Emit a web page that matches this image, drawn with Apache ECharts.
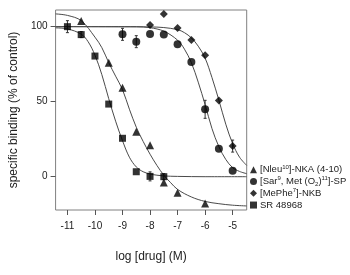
<!DOCTYPE html>
<html><head><meta charset="utf-8">
<script src="https://cdn.jsdelivr.net/npm/echarts@6/dist/echarts.min.js"></script>
<style>html,body{margin:0;padding:0;background:#fff}#c{width:350px;height:275px}</style>
</head><body><div id="c"></div>
<script>
// ---- data ----
const seriesNames = ['[Nleu10]-NKA (4-10)', '[Sar9, Met (O2)11]-SP', '[MePhe7]-NKB', 'SR 48968'];
// same labels with superscript / subscript markup for display
const legendRich = [
  '{t|[Nleu}{sup|10}{t|]-NKA (4-10)}',
  '{t|[Sar}{sup|9}{t|, Met (O}{sub|2}{t|)}{sup|11}{t|]-SP}',
  '{t|[MePhe}{sup|7}{t|]-NKB}',
  '{t|SR 48968}'
];

const triX = [-10.5, -9.5, -9, -8.5, -8, -7.5, -7, -6];
const triY = [103.8, 76, 59.3, 30, 20.9, -3.8, -10.7, -17.8];

const cirX = [-9, -8.5, -8, -7.5, -7, -6.5, -6, -5.5, -5];
const cirY = [94.9, 90, 95.1, 94.7, 88.2, 76.4, 44.9, 18.7, 4];
const cirErr = [4, 4, 0, 0, 0, 0, 6, 0, 0];

const diaX = [-8, -7.5, -7, -6.5, -6, -5.5, -5];
const diaY = [101.1, 108.4, 99.1, 91.1, 80.9, 50.7, 20.4];
const diaErr = [0, 0, 0, 0, 0, 0, 4];

const sqX = [-11, -10.5, -10, -9.5, -9, -8.5, -8, -7.5];
const sqY = [100, 94.7, 80.4, 48.4, 25.6, 3.3, 0.2, 0];
const sqErr = [4, 2, 0, 0, 0, 0, 3, 2];

// fitted curves
const triCurveX = [-11.43, -11, -10.5, -10, -9.75, -9.5, -9.25, -9, -8.75, -8.5, -8.25, -8, -7.75, -7.5, -7.25, -7, -6.5, -6, -5.5, -5, -4.49];
const triCurveY = [108.5, 107.5, 104, 93, 86, 76, 67, 58, 45, 33, 23.5, 15, 7.5, 1, -4, -8.5, -13.5, -16.5, -18, -19, -19.5];

const cirCurveX = [-11.43, -8.5, -8, -7.5, -7, -6.75, -6.5, -6.25, -6, -5.75, -5.5, -5.25, -5, -4.75, -4.49];
const cirCurveY = [100, 100, 99.3, 97, 91, 85, 76, 63, 48, 32, 20, 11.5, 6, 3.5, 2];

const diaCurveX = [-11.43, -8, -7.5, -7, -6.75, -6.5, -6.25, -6, -5.75, -5.5, -5.25, -5, -4.75, -4.49];
const diaCurveY = [100, 99.8, 99.4, 98, 96, 92.5, 87, 79, 66, 51, 35, 22, 13, 7.5];

const sqCurveX = [-11.43, -11, -10.5, -10.25, -10, -9.75, -9.5, -9.25, -9, -8.75, -8.5, -8.25, -8, -7.75, -7.5, -7, -6, -4.49];
const sqCurveY = [99.2, 98.5, 95, 90, 81, 68, 52, 37, 24, 13, 6.5, 3.3, 1.8, 1, 0.5, 0.2, 0, 0];

const xTicks = [-11, -10, -9, -8, -7, -6, -5];
const yTicks = [0, 50, 100];

// ---- build ----
const zip = (xs, ys) => xs.map((x, i) => [x, ys[i]]);
const zip3 = (xs, ys, es) => xs.map((x, i) => [x, ys[i], es[i]]).filter(d => d[2] > 0);

const FONT = 'Liberation Sans, Arial, sans-serif';
const chart = echarts.init(document.getElementById('c'), null, {renderer: 'canvas'});

function curve(xs, ys) {
  return {type: 'line', data: zip(xs, ys), smooth: 0.35, showSymbol: false, symbol: 'none',
    lineStyle: {color: '#4a4a4a', width: 1}, silent: true, z: 1, legendHoverLink: false};
}
function errBars(data) {
  return {type: 'custom', data: data, z: 2, silent: true,
    renderItem: function (params, api) {
      const x = api.value(0), y = api.value(1), e = api.value(2);
      const p1 = api.coord([x, y - e]), p2 = api.coord([x, y + e]);
      const w = 1.5;
      const st = {stroke: '#333', lineWidth: 1};
      return {type: 'group', children: [
        {type: 'line', shape: {x1: p1[0], y1: p1[1], x2: p2[0], y2: p2[1]}, style: st},
        {type: 'line', shape: {x1: p1[0] - w, y1: p1[1], x2: p1[0] + w, y2: p1[1]}, style: st},
        {type: 'line', shape: {x1: p2[0] - w, y1: p2[1], x2: p2[0] + w, y2: p2[1]}, style: st}
      ]};
    }};
}
function pts(name, xs, ys, symbol, size) {
  return {type: 'scatter', name: name, data: zip(xs, ys), symbol: symbol, symbolSize: size,
    itemStyle: {color: '#000'}, z: 3};
}

chart.setOption({
  animation: false,
  grid: {left: 52, right: 103.3, top: 10, bottom: 65, show: true, borderColor: '#808080', borderWidth: 1},
  xAxis: {
    type: 'value', min: -11.43, max: -4.49,
    name: 'log [drug] (M)', nameLocation: 'middle', nameGap: 41,
    nameTextStyle: {fontFamily: FONT, fontSize: 12, color: '#222'},
    axisLine: {show: false, onZero: false},
    axisTick: {show: true, length: 5, lineStyle: {color: '#555'}, customValues: xTicks},
    axisLabel: {fontFamily: FONT, fontSize: 10, color: '#222', margin: 11, customValues: xTicks,
      formatter: v => String(v)},
    splitLine: {show: false}
  },
  yAxis: {
    type: 'value', min: -22.2, max: 111.1,
    name: 'specific binding (% of control)', nameLocation: 'middle', nameGap: 31,
    nameTextStyle: {fontFamily: FONT, fontSize: 12, color: '#222'},
    axisLine: {show: false, onZero: false},
    axisTick: {show: true, length: 5, lineStyle: {color: '#555'}, customValues: yTicks},
    axisLabel: {fontFamily: FONT, fontSize: 10, color: '#222', margin: 8, customValues: yTicks,
      formatter: v => String(v)},
    splitLine: {show: false}
  },
  legend: {
    orient: 'vertical', left: 250, top: 164, itemWidth: 7, itemHeight: 7, itemGap: 0.5,
    padding: 0,
    data: seriesNames.map((n, i) => ({name: n, icon: ['triangle', 'circle', 'diamond', 'rect'][i]})),
    formatter: name => legendRich[seriesNames.indexOf(name)],
    textStyle: {
      fontFamily: FONT, fontSize: 9.5, color: '#222', lineHeight: 11.3, padding: [0, 0, 0, -2],
      rich: {
        t: {fontFamily: FONT, fontSize: 9.5, color: '#222', lineHeight: 11.3},
        sup: {fontFamily: FONT, fontSize: 6, color: '#222', lineHeight: 11.3, verticalAlign: 'top', padding: [0, 0, 3, 0]},
        sub: {fontFamily: FONT, fontSize: 6, color: '#222', lineHeight: 11.3, verticalAlign: 'bottom', padding: [3, 0, 0, 0]}
      }
    },
    itemStyle: {color: '#000'}
  },
  series: [
    curve(triCurveX, triCurveY),
    curve(cirCurveX, cirCurveY),
    curve(diaCurveX, diaCurveY),
    curve(sqCurveX, sqCurveY),
    errBars(zip3(cirX, cirY, cirErr)),
    errBars(zip3(diaX, diaY, diaErr)),
    errBars(zip3(sqX, sqY, sqErr)),
    pts(seriesNames[0], triX, triY, 'triangle', 8),
    pts(seriesNames[1], cirX, cirY, 'circle', 8),
    pts(seriesNames[2], diaX, diaY, 'diamond', 8),
    pts(seriesNames[3], sqX, sqY, 'rect', 7)
  ]
});
</script></body></html>
